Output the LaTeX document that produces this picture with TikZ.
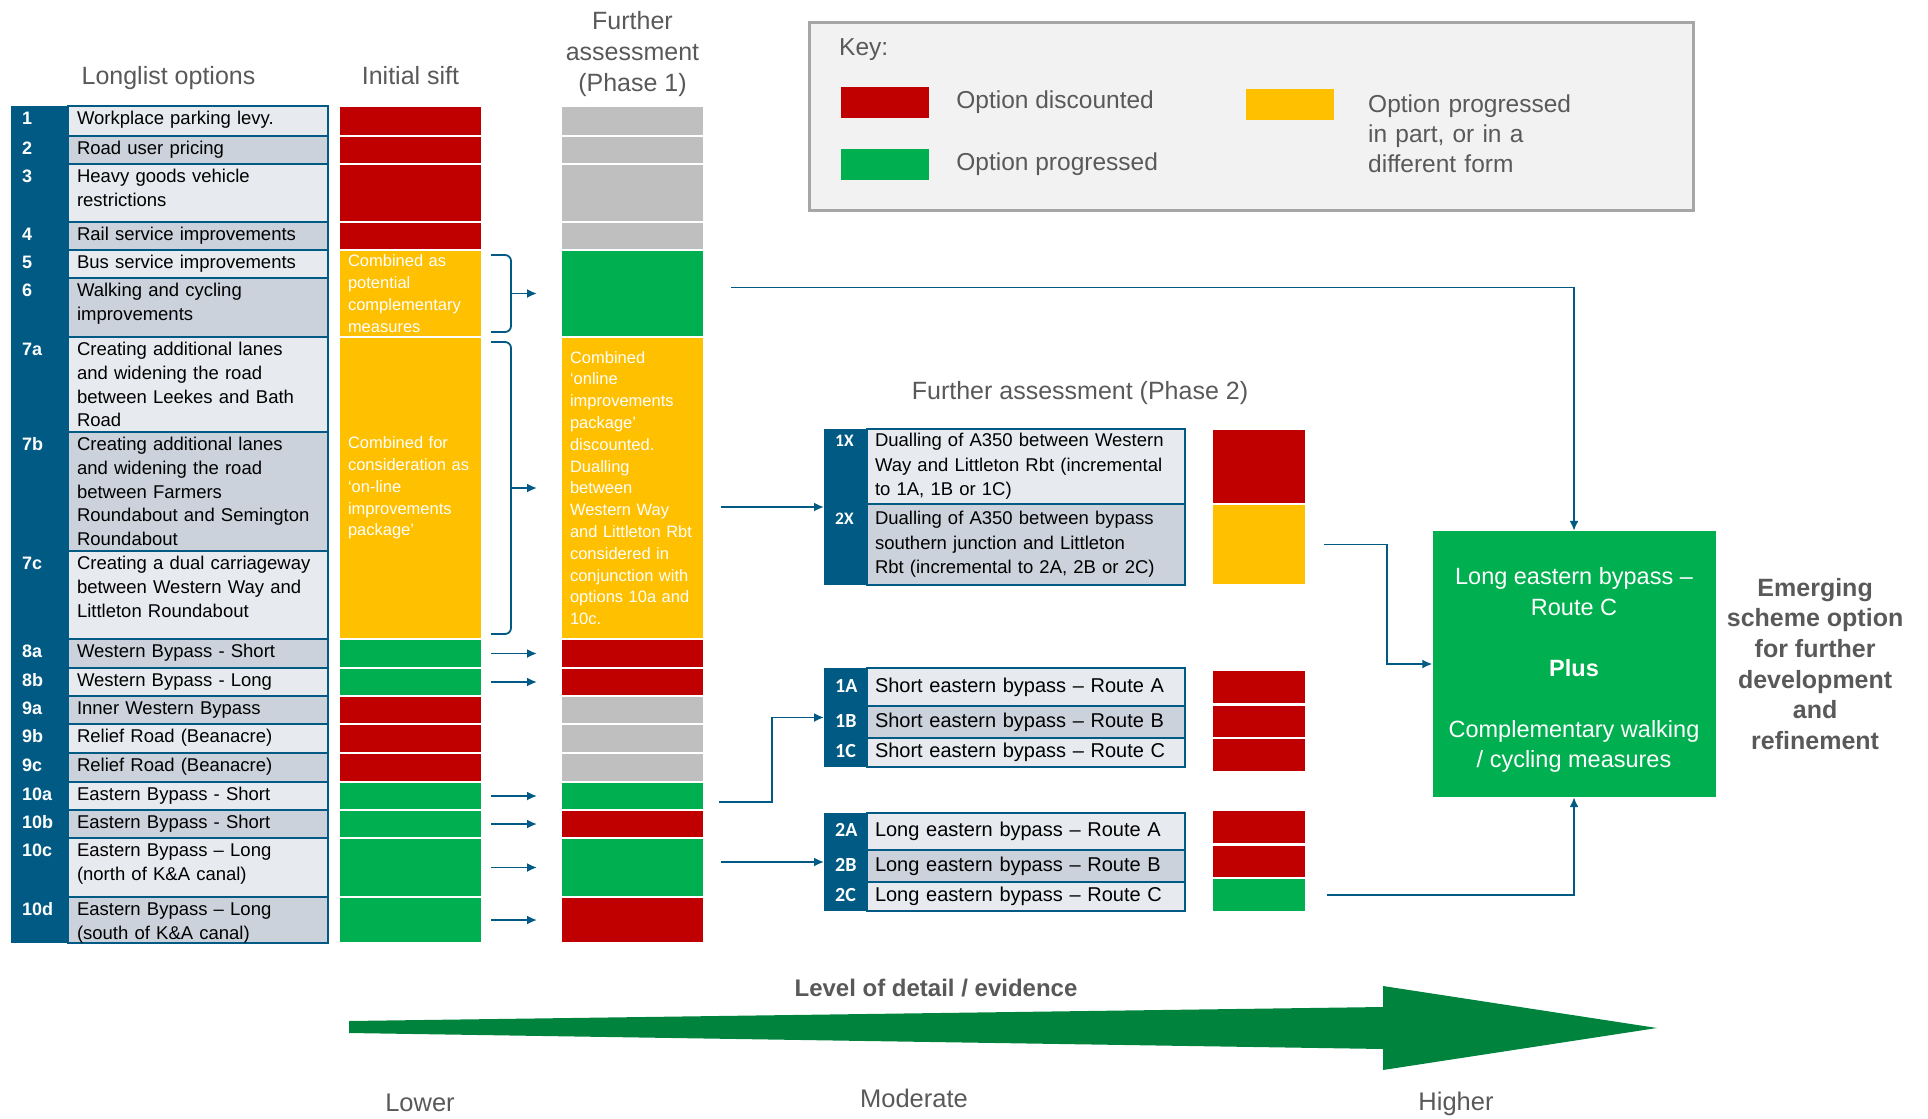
\documentclass[tikz,border=0pt]{standalone}
\usepackage{fontspec}
\setmainfont{Liberation Sans}
\newfontfamily\carlito{Carlito}
\usetikzlibrary{arrows.meta,positioning}

\definecolor{tblue}{HTML}{005A84}
\definecolor{rowlight}{HTML}{E7EAEE}
\definecolor{rowdark}{HTML}{CBD2DB}
\definecolor{optred}{HTML}{C00000}
\definecolor{optgreen}{HTML}{00B050}
\definecolor{optamber}{HTML}{FFC000}
\definecolor{optgrey}{HTML}{BFBFBF}
\definecolor{txtgrey}{HTML}{595959}
\definecolor{keyback}{HTML}{F2F2F2}
\definecolor{keyline}{HTML}{A6A6A6}
\definecolor{evidence}{HTML}{00843D}

\begin{document}
\begin{tikzpicture}[x=1pt, y=-1pt, >={Latex[length=10pt,width=9pt]},
    head/.style={anchor=base, inner sep=0pt, text=txtgrey, font=\fontsize{25}{31}\selectfont},
    llrow/.style={draw=tblue, line width=1.5pt, outer sep=0pt, inner xsep=9pt, inner ysep=3pt,
      text width=242pt, align=left, text height=15.5pt, font=\fontsize{18.5}{23.8}\selectfont},
    llnum/.style={anchor=base west, inner sep=0pt, text=white, font=\bfseries\fontsize{18}{22}\selectfont},
    cell/.style={minimum width=141pt, inner sep=0pt, outer sep=0pt},
    note/.style={cell, text width=125pt, inner xsep=8pt, align=left, text=white,
      font=\fontsize{16.5}{21.8}\selectfont},
    bluecol/.style={fill=tblue, anchor=north west, inner sep=0pt, outer sep=0pt},
    prow/.style={draw=tblue, line width=1.5pt, outer sep=0pt, inner xsep=8pt, inner ysep=2pt,
      text width=302pt, align=left, font=\fontsize{20}{24.5}\selectfont},
    pnum/.style={anchor=base west, inner sep=0pt, text=white, font=\carlito\bfseries\fontsize{20}{22}\selectfont},
    status/.style={cell, minimum width=92pt},
    keytxt/.style={inner sep=0pt, text=txtgrey, font=\fontsize{24.5}{30}\selectfont},
    swatch/.style={minimum width=88pt, minimum height=31pt, inner sep=0pt},
    scalelab/.style={inner sep=0pt, text=txtgrey, font=\fontsize{25.5}{30}\selectfont},
    link/.style={draw=tblue, line width=1.8pt},
    gap/.style={link, ->, shorten <=10pt, shorten >=25pt}]

  \useasboundingbox (0,0) rectangle (1928,1119);

  \node[head] (hlong) at (168.5,84) {Longlist options};
  \node[head] (hsift) at (410.5,84) {Initial sift};
  \node[head, anchor=north, align=center] (hph1) at (632.5,11) {Further\\assessment\\(Phase 1)};
  \node[head] (hph2) at (1080,399) {Further assessment (Phase 2)};

  \node[bluecol, minimum width=57pt, minimum height=837pt] (lcol) at (11,106) {};
  \node[llrow, fill=rowlight, text depth=8.5pt, anchor=north west] (r1) at (68,106) {Workplace parking levy.};
  \node[llrow, fill=rowdark, text depth=6.5pt, below=0pt of r1] (r2) {Road user pricing};
  \node[llrow, fill=rowlight, text depth=36.5pt, below=0pt of r2] (r3) {Heavy goods vehicle\\restrictions};
  \node[llrow, fill=rowdark, text depth=6.5pt, below=0pt of r3] (r4) {Rail service improvements};
  \node[llrow, fill=rowlight, text depth=6.5pt, below=0pt of r4] (r5) {Bus service improvements};
  \node[llrow, fill=rowdark, text depth=37.5pt, below=0pt of r5] (r6) {Walking and cycling\\improvements};
  \node[llrow, fill=rowlight, text depth=73.5pt, below=0pt of r6] (r7a) {Creating additional lanes\\and widening the road\\between Leekes and Bath\\Road};
  \node[llrow, fill=rowdark, text depth=97.5pt, below=0pt of r7a] (r7b) {Creating additional lanes\\and widening the road\\between Farmers\\Roundabout and Semington\\Roundabout};
  \node[llrow, fill=rowlight, text depth=66.5pt, below=0pt of r7b] (r7c) {Creating a dual carriageway\\between Western Way and\\Littleton Roundabout};
  \node[llrow, fill=rowdark, text depth=7.5pt, below=0pt of r7c] (r8a) {Western Bypass - Short};
  \node[llrow, fill=rowlight, text depth=6.5pt, below=0pt of r8a] (r8b) {Western Bypass - Long};
  \node[llrow, fill=rowdark, text depth=6.5pt, below=0pt of r8b] (r9a) {Inner Western Bypass};
  \node[llrow, fill=rowlight, text depth=7.5pt, below=0pt of r9a] (r9b) {Relief Road (Beanacre)};
  \node[llrow, fill=rowdark, text depth=7.5pt, below=0pt of r9b] (r9c) {Relief Road (Beanacre)};
  \node[llrow, fill=rowlight, text depth=6.5pt, below=0pt of r9c] (r10a) {Eastern Bypass - Short};
  \node[llrow, fill=rowdark, text depth=6.5pt, below=0pt of r10a] (r10b) {Eastern Bypass - Short};
  \node[llrow, fill=rowlight, text depth=37.5pt, below=0pt of r10b] (r10c) {Eastern Bypass – Long\\(north of K\&A canal)};
  \node[llrow, fill=rowdark, text depth=24.5pt, below=0pt of r10c] (r10d) {Eastern Bypass – Long\\(south of K\&A canal)};

  \node[llnum] (n1) at ([xshift=-46pt]r1.base west) {1};
  \node[llnum] (n2) at ([xshift=-46pt]r2.base west) {2};
  \node[llnum] (n3) at ([xshift=-46pt]r3.base west) {3};
  \node[llnum] (n4) at ([xshift=-46pt]r4.base west) {4};
  \node[llnum] (n5) at ([xshift=-46pt]r5.base west) {5};
  \node[llnum] (n6) at ([xshift=-46pt]r6.base west) {6};
  \node[llnum] (n7a) at ([xshift=-46pt]r7a.base west) {7a};
  \node[llnum] (n7b) at ([xshift=-46pt]r7b.base west) {7b};
  \node[llnum] (n7c) at ([xshift=-46pt]r7c.base west) {7c};
  \node[llnum] (n8a) at ([xshift=-46pt]r8a.base west) {8a};
  \node[llnum] (n8b) at ([xshift=-46pt]r8b.base west) {8b};
  \node[llnum] (n9a) at ([xshift=-46pt]r9a.base west) {9a};
  \node[llnum] (n9b) at ([xshift=-46pt]r9b.base west) {9b};
  \node[llnum] (n9c) at ([xshift=-46pt]r9c.base west) {9c};
  \node[llnum] (n10a) at ([xshift=-46pt]r10a.base west) {10a};
  \node[llnum] (n10b) at ([xshift=-46pt]r10b.base west) {10b};
  \node[llnum] (n10c) at ([xshift=-46pt]r10c.base west) {10c};
  \node[llnum] (n10d) at ([xshift=-46pt]r10d.base west) {10d};

  \node[cell, fill=optred, minimum height=28pt, right=12pt of r1] (s1) {};
  \node[cell, fill=optred, minimum height=26pt, right=12pt of r2] (s2) {};
  \node[cell, fill=optred, minimum height=56pt, right=12pt of r3] (s3) {};
  \node[cell, fill=optred, minimum height=26pt, right=12pt of r4] (s4) {};
  \node[note, fill=optamber, minimum height=85pt, below=2pt of s4] (s56) {Combined as\\potential\\complementary\\measures};
  \node[note, fill=optamber, minimum height=300pt, below=2pt of s56] (s7) {Combined for\\consideration as\\‘on-line\\improvements\\package’};
  \node[cell, fill=optgreen, minimum height=27pt, right=12pt of r8a] (s8a) {};
  \node[cell, fill=optgreen, minimum height=26pt, right=12pt of r8b] (s8b) {};
  \node[cell, fill=optred, minimum height=26pt, right=12pt of r9a] (s9a) {};
  \node[cell, fill=optred, minimum height=27pt, right=12pt of r9b] (s9b) {};
  \node[cell, fill=optred, minimum height=27pt, right=12pt of r9c] (s9c) {};
  \node[cell, fill=optgreen, minimum height=26pt, right=12pt of r10a] (s10a) {};
  \node[cell, fill=optgreen, minimum height=26pt, right=12pt of r10b] (s10b) {};
  \node[cell, fill=optgreen, minimum height=57pt, right=12pt of r10c] (s10c) {};
  \node[cell, fill=optgreen, minimum height=44pt, right=12pt of r10d] (s10d) {};

  \node[cell, fill=optgrey, minimum height=28pt, right=81pt of s1] (p1) {};
  \node[cell, fill=optgrey, minimum height=26pt, right=81pt of s2] (p2) {};
  \node[cell, fill=optgrey, minimum height=56pt, right=81pt of s3] (p3) {};
  \node[cell, fill=optgrey, minimum height=26pt, right=81pt of s4] (p4) {};
  \node[cell, fill=optgreen, minimum height=85pt, right=81pt of s56] (p56) {};
  \node[note, fill=optamber, minimum height=300pt, right=81pt of s7] (p7) {Combined\\‘online\\improvements\\package’\\discounted.\\Dualling\\between\\Western Way\\and Littleton Rbt\\considered in\\conjunction with\\options 10a and\\10c.};
  \node[cell, fill=optred, minimum height=27pt, right=81pt of s8a] (p8a) {};
  \node[cell, fill=optred, minimum height=26pt, right=81pt of s8b] (p8b) {};
  \node[cell, fill=optgrey, minimum height=26pt, right=81pt of s9a] (p9a) {};
  \node[cell, fill=optgrey, minimum height=27pt, right=81pt of s9b] (p9b) {};
  \node[cell, fill=optgrey, minimum height=27pt, right=81pt of s9c] (p9c) {};
  \node[cell, fill=optgreen, minimum height=26pt, right=81pt of s10a] (p10a) {};
  \node[cell, fill=optred, minimum height=26pt, right=81pt of s10b] (p10b) {};
  \node[cell, fill=optgreen, minimum height=57pt, right=81pt of s10c] (p10c) {};
  \node[cell, fill=optred, minimum height=44pt, right=81pt of s10d] (p10d) {};

  \draw[link, rounded corners=6pt] ([xshift=10pt,yshift=-4pt]s56.north east) -| ([xshift=30pt]s56.east) |- ([xshift=10pt,yshift=4pt]s56.south east);
  \draw[link, ->, shorten >=25pt] ([xshift=30pt]s56.east) -- (p56.west);
  \draw[link, rounded corners=6pt] ([xshift=10pt,yshift=-4pt]s7.north east) -| ([xshift=30pt]s7.east) |- ([xshift=10pt,yshift=4pt]s7.south east);
  \draw[link, ->, shorten >=25pt] ([xshift=30pt]s7.east) -- (p7.west);
  \draw[gap] (s8a) -- (p8a);
  \draw[gap] (s8b) -- (p8b);
  \draw[gap] (s10a) -- (p10a);
  \draw[gap] (s10b) -- (p10b);
  \draw[gap] (s10c) -- (p10c);
  \draw[gap] (s10d) -- (p10d);

  \node[bluecol, minimum width=43pt, minimum height=156pt] (xcol) at (824,429) {};
  \node[prow, fill=rowlight, minimum height=75pt, anchor=north west, font=\fontsize{18.5}{24.5}\selectfont] (x1) at (867,429) {Dualling of A350 between Western\\Way and Littleton Rbt (incremental\\to 1A, 1B or 1C)};
  \node[prow, fill=rowdark, minimum height=81pt, below=0pt of x1, font=\fontsize{18.5}{24.5}\selectfont] (x2) {Dualling of A350 between bypass\\southern junction and Littleton\\Rbt (incremental to 2A, 2B or 2C)};
  \node[pnum, font=\carlito\bfseries\fontsize{17.5}{20}\selectfont] (nx1) at ([xshift=-32pt]x1.base west) {1X};
  \node[pnum, font=\carlito\bfseries\fontsize{17.5}{20}\selectfont] (nx2) at ([xshift=-32pt]x2.base west) {2X};
  \node[status, fill=optred, minimum height=73pt, right=28pt of x1] (xs1) {};
  \node[status, fill=optamber, minimum height=79pt, right=28pt of x2] (xs2) {};

  \node[bluecol, minimum width=43pt, minimum height=99pt] (acol) at (824,668) {};
  \node[prow, fill=rowlight, minimum height=38pt, anchor=north west] (a1) at (867,668) {Short eastern bypass – Route A};
  \node[prow, fill=rowdark, minimum height=32pt, below=0pt of a1] (a2) {Short eastern bypass – Route B};
  \node[prow, fill=rowlight, minimum height=29pt, below=0pt of a2] (a3) {Short eastern bypass – Route C};
  \node[pnum] (na1) at ([xshift=-32pt]a1.base west) {1A};
  \node[pnum] (na2) at ([xshift=-32pt]a2.base west) {1B};
  \node[pnum] (na3) at ([xshift=-32pt]a3.base west) {1C};
  \node[status, fill=optred, minimum height=32pt, right=28pt of a1] (as1) {};
  \node[status, fill=optred, minimum height=31pt, below=3pt of as1] (as2) {};
  \node[status, fill=optred, minimum height=32pt, below=2pt of as2] (as3) {};

  \node[bluecol, minimum width=43pt, minimum height=98pt] (bcol) at (824,813) {};
  \node[prow, fill=rowlight, minimum height=37pt, anchor=north west] (b1) at (867,813) {Long eastern bypass – Route A};
  \node[prow, fill=rowdark, minimum height=32pt, below=0pt of b1] (b2) {Long eastern bypass – Route B};
  \node[prow, fill=rowlight, minimum height=29pt, below=0pt of b2] (b3) {Long eastern bypass – Route C};
  \node[pnum] (nb1) at ([xshift=-32pt]b1.base west) {2A};
  \node[pnum] (nb2) at ([xshift=-32pt]b2.base west) {2B};
  \node[pnum] (nb3) at ([xshift=-32pt]b3.base west) {2C};
  \node[status, fill=optred, minimum height=32pt, anchor=north west] (bs1) at ([xshift=28pt,yshift=2pt]b1.north east) {};
  \node[status, fill=optred, minimum height=31pt, below=3pt of bs1] (bs2) {};
  \node[status, fill=optgreen, minimum height=32pt, below=2pt of bs2] (bs3) {};

  \node[fill=optgreen, minimum width=283pt, minimum height=266pt] (final) at (1574,664) {};
  \node[text=white, align=center, font=\fontsize{23.5}{30.5}\selectfont] (finaltxt) at ([yshift=-6pt]final.center)
    {Long eastern bypass –\\Route C\\[30.5pt]\textbf{Plus}\\[30.5pt]Complementary walking\\/ cycling measures};
  \node[right=11pt of final, align=center, inner sep=0pt, text=txtgrey,
    font=\bfseries\fontsize{25}{30.7}\selectfont] (emerge) {Emerging\\scheme option\\for further\\development\\and\\refinement};

  \draw[link, ->] ([xshift=28pt,yshift=6pt]p56.east) -| (final.north);
  \draw[link, ->] ([xshift=18pt]p7.east |- xcol.west) -- (xcol.west);
  \draw[link, ->] ([xshift=16pt,yshift=-6pt]p10a.east) -| ([xshift=-52pt]acol.west) -- (acol.west);
  \draw[link, ->] ([xshift=18pt]p10c.east |- bcol.west) -- (bcol.west);
  \draw[link, ->] ([xshift=19pt]xs2.east) -| ([xshift=-45pt]final.west) -- (final.west);
  \draw[link, ->] ([xshift=22pt]bs3.east) -| (final.south);

  \node[draw=keyline, line width=2.5pt, fill=keyback, minimum width=884pt, minimum height=188pt, anchor=north west] (key) at (808,21) {};
  \node[keytxt, anchor=west] (keyhead) at (839,50) {Key:};
  \node[swatch, fill=optred] (kred) at (885,102.5) {};
  \node[swatch, fill=optgreen] (kgreen) at (885,164) {};
  \node[swatch, fill=optamber] (kamber) at (1289.5,104) {};
  \node[keytxt, right=27pt of kred] (kredtxt) {Option discounted};
  \node[keytxt, right=27pt of kgreen] (kgreentxt) {Option progressed};
  \node[keytxt, text width=300pt, align=left, anchor=base west] (kambertxt) at (1368,112) {Option progressed\\in part, or in a\\different form};

  \fill[evidence] (349,1021) -- (1383,1007) -- (1383,986) -- (1657,1028) -- (1383,1070) -- (1383,1049) -- (349,1033) -- cycle;
  \node[inner sep=0pt, text=txtgrey, font=\bfseries\fontsize{24}{28}\selectfont] (detail) at (936,988) {Level of detail / evidence};
  \node[scalelab] (lower) at (420,1103) {Lower};
  \node[scalelab] (moderate) at (914,1098) {Moderate};
  \node[scalelab] (higher) at (1456,1104) {Higher};
\end{tikzpicture}
\end{document}
